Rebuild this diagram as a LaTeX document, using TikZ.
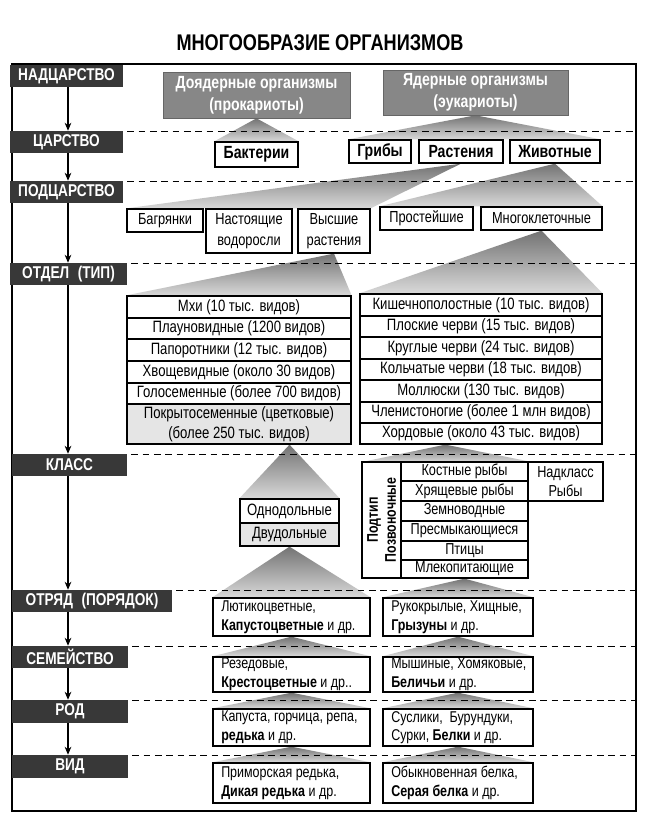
\documentclass[tikz,border=0pt]{standalone}
\usepackage{fontspec}
\setmainfont{Liberation Sans}[FakeStretch=0.8]
\usetikzlibrary{arrows.meta,backgrounds,calc}
\newcommand\fs[2]{\fontsize{#1}{#2}\selectfont}
\newcommand\rbox[7]{\node[#6, minimum width={(#4-#2)*0.75pt}, minimum height={(#5-#3)*0.75pt}] (#1) at ({(#2+#4)/2},{(#3+#5)/2}) {#7};}
\newcommand\tbox[6]{\rbox{#1}{#2}{#3}{#4}{#5}{bbox}{}\node[btext, anchor=west] (#1t) at ([xshift=6.5pt]#1.west) {#6};}
\tikzset{
 lab/.style={fill=black!78, text=white, inner sep=0pt, font=\bfseries\fs{12.8}{14}},
 gbox/.style={fill=black!47, draw=black!60, line width=0.5pt, text=white, inner sep=0pt, align=center, font=\bfseries\fs{13.2}{16.5}},
 kbox/.style={draw, fill=white, line width=1pt, inner sep=0pt, font=\bfseries\fs{13.2}{15}},
 sbox/.style={draw, fill=white, line width=0.95pt, inner sep=0pt, align=center, font=\fs{12}{16}},
 cell/.style={draw, fill=white, line width=0.95pt, inner sep=0pt, align=center, font=\fs{12.3}{14.8}},
 scell/.style={cell, font=\fs{11.9}{14.3}},
 bbox/.style={draw, fill=white, line width=1pt, inner sep=0pt},
 btext/.style={inner sep=0pt, align=left, font=\fs{11.7}{14}},
 tri/.style={top color=black!55, bottom color=black!15, draw=none},
 dline/.style={dash pattern=on 5pt off 3.5pt, line width=0.8pt},
 arr/.style={line width=0.8pt, -{Stealth[length=6pt,width=5pt]}},
 outerframe/.style={line width=1.2pt},
}
\begin{document}
\begin{tikzpicture}[x=0.75pt,y=-0.75pt]
\useasboundingbox (0,0) rectangle (655,838);
\coordinate (ax) at (68,0);
\coordinate (fr) at (636,0);
\draw[outerframe] (12,64) rectangle (636,811);
\node[font=\bfseries\fs{17}{19}] (title) at (320,43) {МНОГООБРАЗИЕ ОРГАНИЗМОВ};
% level labels
\rbox{l1}{10}{65}{123}{87}{lab}{НАДЦАРСТВО}
\rbox{l2}{10}{131}{123}{153}{lab}{ЦАРСТВО}
\rbox{l3}{10}{181}{123}{203}{lab}{ПОДЦАРСТВО}
\rbox{l4}{10}{263}{127}{285}{lab}{ОТДЕЛ\enspace(ТИП)}
\rbox{l5}{12}{454}{127}{476}{lab}{КЛАСС}
\rbox{l6}{12}{590}{172}{612}{lab}{ОТРЯД\enspace(ПОРЯДОК)}
\rbox{l7}{12}{646}{128}{668}{lab}{СЕМЕЙСТВО}
\rbox{l8}{12}{700}{128}{723}{lab}{РОД}
\rbox{l9}{12}{755}{128}{778}{lab}{ВИД}
\draw[arr] (l1.south -| ax) -- (l2.north -| ax);
\draw[arr] (l2.south -| ax) -- (l3.north -| ax);
\draw[arr] (l3.south -| ax) -- (l4.north -| ax);
\draw[arr] (l4.south -| ax) -- (l5.north -| ax);
\draw[arr] (l5.south -| ax) -- (l6.north -| ax);
\draw[arr] (l6.south -| ax) -- (l7.north -| ax);
\draw[arr] (l7.south -| ax) -- (l8.north -| ax);
\draw[arr] (l8.south -| ax) -- (l9.north -| ax);
% superkingdoms
\rbox{dnuc}{163}{72}{350}{118}{gbox}{Доядерные организмы\\(прокариоты)}
\rbox{nuc}{383}{70}{568}{115}{gbox}{Ядерные организмы\\(эукариоты)}
% kingdoms
\rbox{bakt}{215}{142}{298}{167}{kbox}{Бактерии}
\rbox{grib}{349}{140}{411}{163}{kbox}{Грибы}
\rbox{rast}{419}{140}{503}{163}{kbox}{Растения}
\rbox{zhiv}{510}{140}{600}{163}{kbox}{Животные}
% subkingdoms
\rbox{bagr}{127}{209}{203}{232}{sbox}{Багрянки}
\rbox{nast}{206}{209}{292}{253}{sbox}{Настоящие\\водоросли}
\rbox{vys}{298}{209}{370}{253}{sbox}{Высшие\\растения}
\rbox{prost}{380}{207}{473}{230}{sbox}{Простейшие}
\rbox{mnog}{481}{207}{602}{230}{sbox}{Многоклеточные}
% plant divisions
\rbox{mkh}{127}{296}{351}{318}{cell}{Мхи (10 тыс. видов)}
\rbox{plaun}{127}{318}{351}{339}{cell}{Плауновидные (1200 видов)}
\rbox{pap}{127}{339}{351}{361}{cell}{Папоротники (12 тыс. видов)}
\rbox{hvosh}{127}{361}{351}{383}{cell}{Хвощевидные (около 30 видов)}
\rbox{golo}{127}{383}{351}{404}{cell}{Голосеменные (более 700 видов)}
\rbox{pokr}{127}{404}{351}{444}{cell,fill=black!10}{Покрытосеменные (цветковые)\\(более 250 тыс. видов)}
% animal phyla
\rbox{kish}{360}{294}{602}{316}{cell}{Кишечнополостные (10 тыс. видов)}
\rbox{plosk}{360}{316}{602}{337}{cell}{Плоские черви (15 тыс. видов)}
\rbox{krug}{360}{337}{602}{359}{cell}{Круглые черви (24 тыс. видов)}
\rbox{kolch}{360}{359}{602}{380}{cell}{Кольчатые черви (18 тыс. видов)}
\rbox{moll}{360}{380}{602}{402}{cell}{Моллюски (130 тыс. видов)}
\rbox{chlen}{360}{402}{602}{423}{cell}{Членистоногие (более 1 млн видов)}
\rbox{hord}{360}{423}{602}{444}{cell}{Хордовые (около 43 тыс. видов)}
% classes
\rbox{odno}{240}{499}{339}{523}{cell}{Однодольные}
\rbox{dvud}{240}{523}{339}{546}{cell,fill=black!10}{Двудольные}
\node[cell, rotate=90, font=\bfseries\fs{11.6}{13.5}, minimum width={116*0.75pt}, minimum height={39*0.75pt}] (podt) at (381.5,520) {Подтип\\Позвоночные};
\rbox{kost}{401}{462}{528}{481}{scell}{Костные рыбы}
\rbox{hrya}{401}{481}{528}{501}{scell}{Хрящевые рыбы}
\rbox{zem}{401}{501}{528}{521}{scell}{Земноводные}
\rbox{pres}{401}{521}{528}{541}{scell}{Пресмыкающиеся}
\rbox{pti}{401}{541}{528}{560}{scell}{Птицы}
\rbox{mlek}{401}{560}{528}{578}{scell}{Млекопитающие}
\rbox{nadk}{528}{462}{603}{501}{scell}{Надкласс\\Рыбы}
\coordinate (subNW) at (362,462);
\coordinate (subtop) at ($(subNW)!0.5!(kost.north east)$);
% orders .. species
\tbox{lyut}{213}{598}{370}{636}{Лютикоцветные,\\\textbf{Капустоцветные} и~др.}
\tbox{ruk}{383}{598}{533}{636}{Рукокрылые, Хищные,\\\textbf{Грызуны} и др.}
\tbox{rez}{213}{657}{370}{692}{Резедовые,\\\textbf{Крестоцветные} и др..}
\tbox{mysh}{383}{657}{533}{692}{Мышиные, Хомяковые,\\\textbf{Беличьи} и др.}
\tbox{kap}{213}{709}{370}{746}{Капуста, горчица, репа,\\\textbf{редька} и др.}
\tbox{sus}{383}{709}{533}{746}{Суслики,\ \ Бурундуки,\\Сурки, \textbf{Белки} и др.}
\tbox{prim}{213}{763}{370}{803}{Приморская редька,\\\textbf{Дикая редька} и др.}
\tbox{obyk}{383}{763}{533}{803}{Обыкновенная белка,\\\textbf{Серая белка} и др.}
\begin{pgfonlayer}{background}
\fill[white] (0,0) rectangle (655,838);
\shade[tri] (dnuc.south) -- (bakt.north west) -- (bakt.north east) -- cycle;
\shade[tri] (nuc.south) -- (grib.north west) -- (zhiv.north east) -- cycle;
\shade[tri] (rast.south) -- (bagr.north west) -- (vys.north east) -- cycle;
\shade[tri] (zhiv.south) -- (prost.north west) -- (mnog.north east) -- cycle;
\shade[tri] (vys.south) -- (mkh.north west) -- (mkh.north east) -- cycle;
\shade[tri] (mnog.south) -- (kish.north west) -- (kish.north east) -- cycle;
\shade[tri] (odno.north |- pokr.south) -- (odno.north west) -- (odno.north east) -- cycle;
\shade[tri] (subtop |- hord.south) -- (subNW) -- (kost.north east) -- cycle;
\shade[tri] (dvud.south) -- (lyut.north west) -- (lyut.north east) -- cycle;
\shade[tri] (mlek.south) -- (ruk.north west) -- (ruk.north east) -- cycle;
\shade[tri] (lyut.south) -- (rez.north west) -- (rez.north east) -- cycle;
\shade[tri] (ruk.south) -- (mysh.north west) -- (mysh.north east) -- cycle;
\shade[tri] (rez.south) -- (kap.north west) -- (kap.north east) -- cycle;
\shade[tri] (mysh.south) -- (sus.north west) -- (sus.north east) -- cycle;
\shade[tri] (kap.south) -- (prim.north west) -- (prim.north east) -- cycle;
\shade[tri] (sus.south) -- (obyk.north west) -- (obyk.north east) -- cycle;
\foreach \l in {l2,l3,l4,l5,l6,l7,l8,l9}
  \draw[dline] ([xshift=3pt,yshift=-0.5pt]\l.north east) -- ([yshift=-0.5pt]\l.north east -| fr);
\end{pgfonlayer}
\end{tikzpicture}
\end{document}
